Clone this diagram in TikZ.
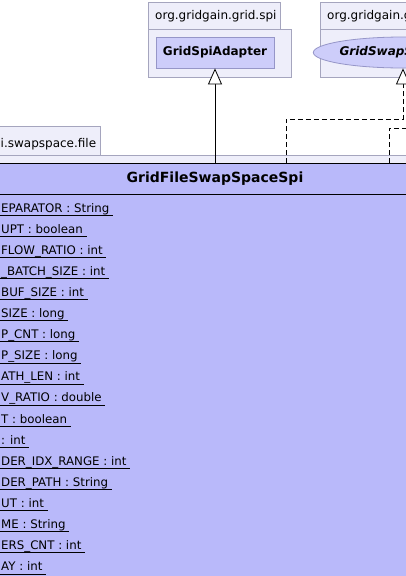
\documentclass[tikz,border=0pt]{standalone}
\usepackage{fontspec}
\setmainfont{DejaVu Sans}
\usetikzlibrary{arrows.meta,shapes.geometric}
\definecolor{pkgfill}{RGB}{238,238,250}
\definecolor{pkgline}{RGB}{165,165,190}
\definecolor{clsfill}{RGB}{185,185,250}
\definecolor{adpfill}{RGB}{205,205,250}
\definecolor{adpline}{RGB}{150,150,200}

\begin{document}
\begin{tikzpicture}[x=1pt,y=-1pt,
  pkg/.style={draw=pkgline,fill=pkgfill,line width=0.8pt},
  pkgname/.style={font=\fontsize{12}{14}\selectfont,inner sep=0pt},
  adapter/.style={draw=adpline,fill=adpfill,line width=0.8pt,minimum width=118pt,minimum height=31pt,inner sep=0pt,font=\fontsize{12}{14}\selectfont\bfseries},
  iface/.style={ellipse,draw=adpline,fill=adpfill,line width=0.8pt,minimum width=152pt,minimum height=31pt,inner sep=0pt,font=\fontsize{12}{14}\selectfont\bfseries\itshape},
  clsbox/.style={draw=black,fill=clsfill,line width=0.8pt,minimum width=480pt,minimum height=460pt,inner sep=0pt},
  field/.style={font=\fontsize{11.8}{14}\selectfont,inner sep=0pt,text depth=3pt},
  extends/.style={-{Triangle[open,fill=white,length=16pt,width=14pt]},line width=0.8pt},
  realize/.style={extends,dash pattern=on 5pt off 3pt},
]
\useasboundingbox (0,0) rectangle (406,576);
\clip (0,0) rectangle (406,576);
\fill[white] (0,0) rectangle (406,576);

% grid spi package
\draw[pkg] (148,2) rectangle (280,29);
\draw[pkg] (148,29) rectangle (291,77);
\node[pkgname,anchor=base west] (spipkg) at (155,19.5) {org.gridgain.grid.spi};
\node[adapter] (adapter) at (215,52.5) {GridSpiAdapter};

% swapspace package
\draw[pkg] (320,2) rectangle (500,29);
\draw[pkg] (320,29) rectangle (510,77);
\node[pkgname,anchor=base west] (swappkg) at (327,19.5) {org.gridgain.grid.spi.swapspace};
\node[iface] (swapif) at (403,52.5) {GridSwapSpaceSpi};

% file package
\draw[pkg] (-80,126) rectangle (100,155);
\draw[pkg] (-80,155) rectangle (470,620);
\node[pkgname,anchor=base west] (filepkg) at (0.5,147) {i.swapspace.file};

% the class
\node[clsbox] (cls) at (215,393.5) {};
\node[font=\fontsize{14}{16}\selectfont\bfseries,inner sep=0pt] (clsname) at (215,179) {GridFileSwapSpaceSpi};
\draw[line width=0.8pt] (cls.west |- 0,194) -- (cls.east |- 0,194);

\foreach \txt [count=\i] in {
  EPARATOR : String,
  UPT : boolean,
  FLOW\_RATIO : int,
  \_BATCH\_SIZE : int,
  BUF\_SIZE : int,
  SIZE : long,
  P\_CNT : long,
  P\_SIZE : long,
  ATH\_LEN : int,
  V\_RATIO : double,
  T : boolean,
  : int,
  DER\_IDX\_RANGE : int,
  DER\_PATH : String,
  UT : int,
  ME : String,
  ERS\_CNT : int,
  AY : int}
{
  \node[field,anchor=base west] (f\i) at (1,{212+21.1*(\i-1)}) {\txt};
  \draw[line width=0.7pt] (0,0 |- f\i.south) -- ([xshift=3.5pt]f\i.south east);
}

% connectors
\coordinate (k1) at (403,119);
\coordinate (k2) at (412,128);
\draw[extends] (cls.north -| adapter) -- (adapter.south);
\draw[realize] (cls.north -| 286,0) |- (k1) -- (swapif.south);
\draw[line width=0.8pt,dash pattern=on 5pt off 3pt] (cls.north -| 389,0) |- (k2);
\end{tikzpicture}
\end{document}
